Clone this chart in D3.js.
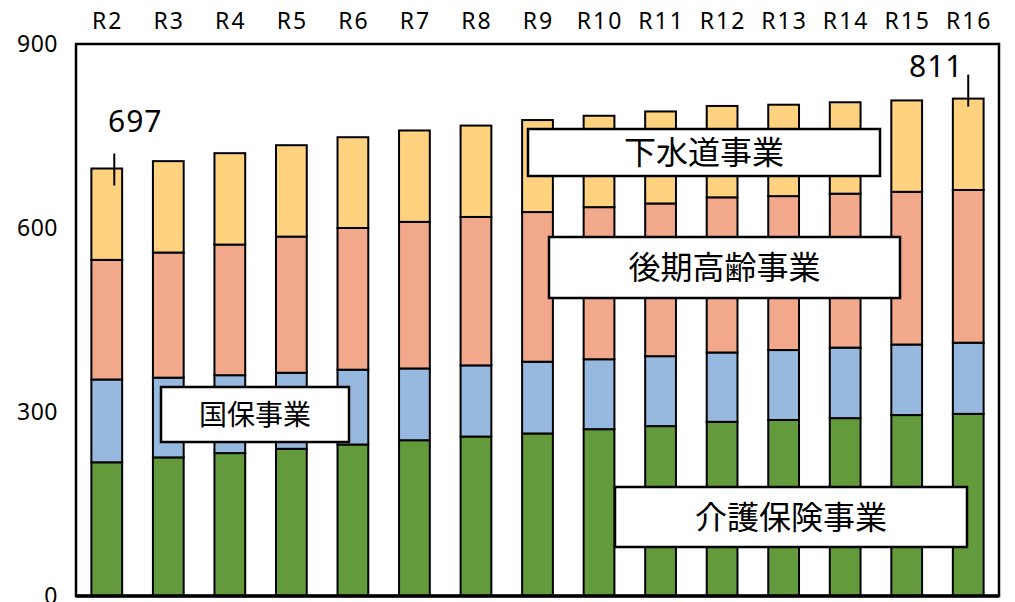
<!DOCTYPE html>
<html>
<head>
<meta charset="utf-8">
<script src="https://cdn.jsdelivr.net/npm/d3@7"></script>
<style>
  body { margin: 0; background: #fff; }
  text { font-family: "Noto Sans", "DejaVu Sans", sans-serif; fill: #000; }
  .jp { font-family: "Noto Sans CJK JP", sans-serif; }
</style>
</head>
<body>
<div class="chart"></div>
<script>
var years = ["R2", "R3", "R4", "R5", "R6", "R7", "R8", "R9", "R10", "R11", "R12", "R13", "R14", "R15", "R16"];
var kaigo = [218, 226, 233, 240, 247, 254, 260, 265, 272, 277, 284, 287, 290, 295, 297];
var kokuho = [135, 130, 127, 124, 122, 117, 116, 117, 114, 114, 113, 114, 115, 115, 116];
var koki = [195, 204, 213, 222, 231, 239, 242, 244, 248, 249, 253, 251, 251, 249, 249];
var gesui = [149, 149, 149, 149, 148, 149, 149, 150, 149, 150, 149, 149, 149, 149, 149];
var yTicks = [0, 300, 600, 900];
var seriesNames = ["介護保険事業", "国保事業", "後期高齢事業", "下水道事業"];

(function() {
  var width = 1015,
    height = 602,
    margin = {top: 44, left: 76, right: 16, bottom: 6};

  var svg = d3.select(".chart").append("svg")
    .attr("width", width)
    .attr("height", height);

  var x = d3.scaleBand()
    .domain(years)
    .range([margin.left, width - margin.right])
    .paddingInner(0.5)
    .paddingOuter(0.25);

  var y = d3.scaleLinear()
    .domain([0, 900])
    .range([height - margin.bottom, margin.top]);

  var colors = ["#629a3c", "#97b9e0", "#f1a88b", "#ffd280"];

  var rows = years.map(function(d, i) {
    return {year: d, s0: kaigo[i], s1: kokuho[i], s2: koki[i], s3: gesui[i]};
  });
  var stack = d3.stack().keys(["s0", "s1", "s2", "s3"]);
  var layers = stack(rows);

  // y labels (no tick marks)
  svg.append("g").selectAll("text")
    .data(yTicks)
    .enter().append("text")
      .attr("x", 58)
      .attr("y", function(d) { return y(d); })
      .attr("dy", "0.36em")
      .attr("text-anchor", "end")
      .style("font-size", "23px")
      .style("letter-spacing", "0.5px")
      .text(function(d) { return d; });

  // category labels on top
  svg.append("g").selectAll("text")
    .data(years)
    .enter().append("text")
      .attr("x", function(d) { return x(d) + x.bandwidth() / 2 + 1; })
      .attr("y", 29)
      .attr("text-anchor", "middle")
      .style("font-size", "23px")
      .style("letter-spacing", "2px")
      .text(function(d) { return d; });

  // bars
  svg.append("g").selectAll("g")
    .data(layers)
    .enter().append("g")
      .attr("fill", function(d, i) { return colors[i]; })
    .selectAll("rect")
      .data(function(d) { return d; })
    .enter().append("rect")
      .attr("x", function(d) { return x(d.data.year); })
      .attr("y", function(d) { return y(d[1]); })
      .attr("width", x.bandwidth())
      .attr("height", function(d) { return y(d[0]) - y(d[1]); })
      .attr("stroke", "#000")
      .attr("stroke-width", 2);

  // frame
  svg.append("rect")
    .attr("x", margin.left)
    .attr("y", y(900))
    .attr("width", width - margin.right - margin.left)
    .attr("height", y(0) - y(900))
    .attr("fill", "none")
    .attr("stroke", "#000")
    .attr("stroke-width", 2.5);
  svg.append("line")
    .attr("x1", margin.left).attr("x2", width - margin.right)
    .attr("y1", y(0)).attr("y2", y(0))
    .attr("stroke", "#000").attr("stroke-width", 3.5);

  // total callouts for first and last year
  var totals = rows.map(function(d) { return d.s0 + d.s1 + d.s2 + d.s3; });
  var callouts = [
    {i: 0, dx: 7.5, up: 15, down: 17, tx: 21, ty: -37},
    {i: years.length - 1, dx: 0, up: 24, down: 8, tx: -32, ty: -22}
  ];
  callouts.forEach(function(c) {
    var cx = x(years[c.i]) + x.bandwidth() / 2 + c.dx,
      cy = y(totals[c.i]);
    svg.append("line")
      .attr("x1", cx).attr("x2", cx)
      .attr("y1", cy - c.up).attr("y2", cy + c.down)
      .attr("stroke", "#000").attr("stroke-width", 2);
    svg.append("text")
      .attr("x", cx + c.tx)
      .attr("y", cy + c.ty)
      .attr("text-anchor", "middle")
      .style("font-size", "30px")
      .style("letter-spacing", "1px")
      .text(totals[c.i]);
  });

  // series name boxes
  var boxes = [
    {name: seriesNames[3], x: 528, y: 129, w: 352, h: 47, size: 32},
    {name: seriesNames[2], x: 549, y: 237, w: 351, h: 61, size: 32},
    {name: seriesNames[1], x: 161, y: 387, w: 188, h: 55, size: 28},
    {name: seriesNames[0], x: 615, y: 487, w: 352, h: 60, size: 32}
  ];
  var gb = svg.append("g").selectAll("g")
    .data(boxes)
    .enter().append("g");
  gb.append("rect")
    .attr("x", function(d) { return d.x; })
    .attr("y", function(d) { return d.y; })
    .attr("width", function(d) { return d.w; })
    .attr("height", function(d) { return d.h; })
    .attr("fill", "#fff")
    .attr("stroke", "#000")
    .attr("stroke-width", 2.5);
  gb.append("text")
    .attr("class", "jp")
    .attr("x", function(d) { return d.x + d.w / 2; })
    .attr("y", function(d) { return d.y + d.h / 2; })
    .attr("dy", "0.36em")
    .attr("text-anchor", "middle")
    .style("font-size", function(d) { return d.size + "px"; })
    .text(function(d) { return d.name; });
})();
</script>
</body>
</html>
